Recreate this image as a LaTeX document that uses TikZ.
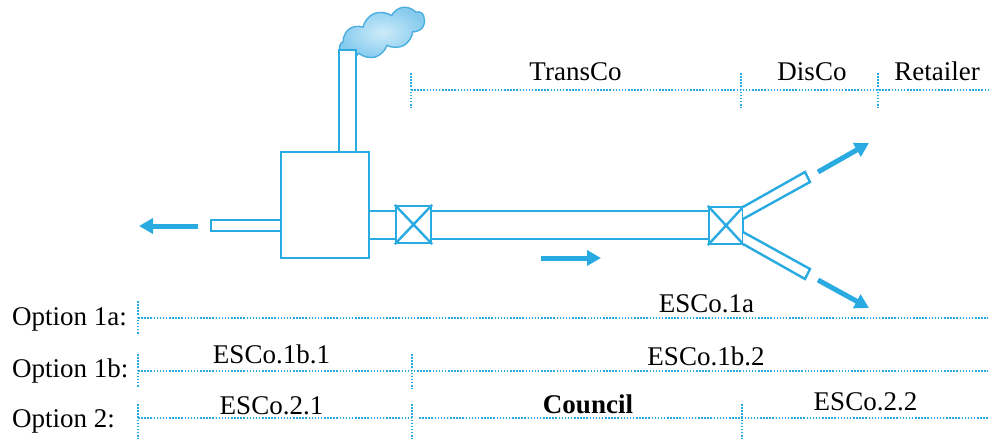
\documentclass[tikz,border=0pt]{standalone}
\usepackage{fontspec}
\setmainfont{Liberation Serif}
\usetikzlibrary{arrows.meta,shapes.symbols,calc}
\definecolor{pipeblue}{HTML}{29ABE2}
\definecolor{cloudedge}{HTML}{4AAFE0}
\definecolor{cloudlight}{HTML}{CDEBF9}
\definecolor{clouddark}{HTML}{86CBEE}
\begin{document}
\begin{tikzpicture}[x=1pt,y=-1pt,
  pipe/.style={draw=pipeblue,line width=2.4pt,fill=white},
  unit/.style={pipe,inner sep=0pt},
  flow/.style={pipeblue,line width=5pt,-{Triangle[length=14pt,width=15pt]}},
  grid/.style={pipeblue,line width=2.2pt,dash pattern=on 1.5pt off 1.6pt},
  lbl/.style={anchor=base,inner sep=0pt,font=\fontsize{27pt}{32pt}\selectfont},
  optlbl/.style={lbl,anchor=base west}]
\useasboundingbox (0,0) rectangle (989,439);

% smoke above the stack
\node[cloud, cloud puffs=9, cloud puff arc=115, aspect=2.2, minimum width=90pt, minimum height=42pt,
      rotate=22, draw=cloudedge, line width=1.4pt,
      inner color=cloudlight, outer color=clouddark] (smoke) at (382,33) {};

% stack, boiler and outlet pipe
\node[unit, minimum width=17pt, minimum height=102pt] (stack) at (347.5,101) {};
\node[unit, minimum width=88pt, minimum height=106pt] (boiler) at (325,205) {};
\node[unit, minimum width=70pt, minimum height=11pt] (outlet) at (246,225.5) {};

% valves
\node[unit, minimum width=35pt, minimum height=37pt] (v1) at (413.5,224.5) {};
\draw[pipe] (v1.north west) -- (v1.south east) (v1.north east) -- (v1.south west);
\node[unit, minimum width=34pt, minimum height=37pt] (v2) at (726,225.5) {};
\draw[pipe] (v2.north west) -- (v2.south east) (v2.north east) -- (v2.south west);

% transmission pipes
\draw[pipe] ($(boiler.east |- v1.west)+(0,-13.5)$) -- ($(v1.west)+(0,-13.5)$)
            ($(boiler.east |- v1.west)+(0,14.5)$) -- ($(v1.west)+(0,14.5)$);
\draw[pipe] ($(v1.east)+(0,-13.5)$) -- ($(v2.west |- v1.west)+(0,-13.5)$)
            ($(v1.east)+(0,14.5)$) -- ($(v2.west |- v1.west)+(0,14.5)$);

% distribution branches
\draw[pipe,line join=miter] (743,207) -- (805,172) -- (810,182) -- (743,219);
\draw[pipe,line join=miter] (743,244) -- (805,279) -- (810,269) -- (743,232);

% flow arrows
\draw[flow] (198,226) -- (139,226);
\draw[flow] (541,258) -- (601,258);
\draw[flow] (818,172) -- (869,143);
\draw[flow] (818,280) -- (869,308);

% ownership scale
\draw[grid] (411,90) -- (989,90);
\draw[grid] (411,73) -- (411,108);
\draw[grid] (741,73) -- (741,108);
\draw[grid] (878,73) -- (878,108);
\node[lbl] (transco) at (575.5,80) {TransCo};
\node[lbl] (disco) at (812,80) {DisCo};
\node[lbl] (retailer) at (937,80) {Retailer};

% option 1a
\node[optlbl] (opt1a) at (12,325) {Option 1a:};
\draw[grid] (138,318) -- (988,318);
\draw[grid] (138,301) -- (138,335);
\node[lbl] (esco1a) at (706.5,312) {ESCo.1a};

% option 1b
\node[optlbl] (opt1b) at (12,377) {Option 1b:};
\draw[grid] (138,371) -- (988,371);
\draw[grid] (138,354) -- (138,388);
\draw[grid] (412,354) -- (412,389);
\node[lbl] (esco1b1) at (271.5,363) {ESCo.1b.1};
\node[lbl] (esco1b2) at (706,365) {ESCo.1b.2};

% option 2
\node[optlbl] (opt2) at (12,427) {Option 2:};
\draw[grid] (138,418) -- (412,418);
\draw[grid] (419,418) -- (988,418);
\draw[grid] (138,404) -- (138,439);
\draw[grid] (412,404) -- (412,439);
\draw[grid] (742,404) -- (742,439);
\node[lbl] (esco21) at (271.5,414) {ESCo.2.1};
\node[lbl,font=\fontsize{27pt}{32pt}\selectfont\bfseries] (council) at (588,413) {Council};
\node[lbl] (esco22) at (865.5,410) {ESCo.2.2};
\end{tikzpicture}
\end{document}
